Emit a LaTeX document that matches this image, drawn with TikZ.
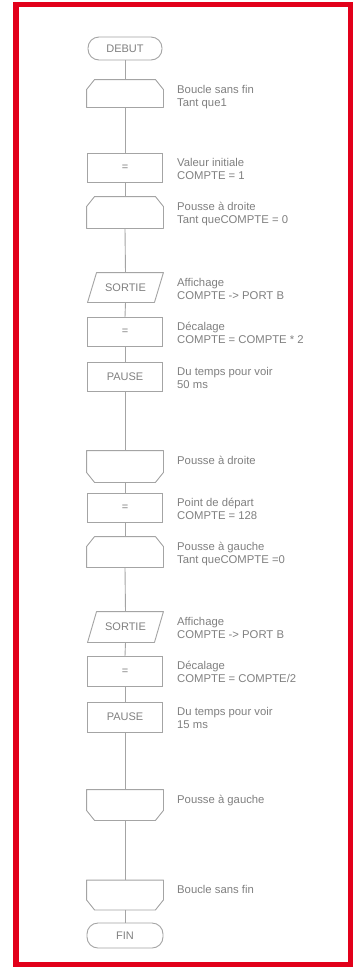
\documentclass[tikz,border=0pt]{standalone}
\usepackage{fontspec}
\setmainfont{Liberation Sans}
\definecolor{framered}{HTML}{E2001A}
\definecolor{linegray}{HTML}{A4A4A4}
\definecolor{textgray}{HTML}{808080}
\tikzset{
  base/.style={draw=linegray, line width=0.9pt, inner sep=0pt, text=textgray,
    font=\fontsize{11}{13}\selectfont, minimum width=75pt, minimum height=29pt},
  term/.style={base, rounded corners=11pt, minimum width=74pt, minimum height=23pt},
  procbox/.style={base, rectangle},
  shapeonly/.style={base, draw=none, minimum width=76pt, minimum height=30pt},
  outline/.style={draw=linegray, line width=0.9pt, line join=round},
  lbl/.style={anchor=north west, inner sep=0pt, align=left, text=textgray,
    font=\fontsize{11.3}{13}\selectfont},
  conn/.style={draw=linegray, line width=0.9pt}
}
\newcommand{\lb}[1]{\strut #1}
\begin{document}
\begin{tikzpicture}[x=1pt,y=-1pt]
\useasboundingbox (0,0) rectangle (357,967);
\fill[white] (0,0) rectangle (357,967);
\draw[framered, line width=5.5pt] (16,4.5) rectangle (350.5,964.5);

\node[term] (n1) at (125,48.5) {DEBUT};
\node[shapeonly, minimum height=27pt] (n2) at (125,93.5) {};
\node[procbox] (n3) at (125,167.5) {=};
\node[shapeonly, minimum height=31pt] (n4) at (125,212.5) {};
\node[shapeonly, minimum width=75pt, minimum height=29pt] (n5) at (125.5,287.5) {SORTIE};
\node[procbox] (n6) at (125,332) {=};
\node[procbox] (n7) at (125,376.5) {PAUSE};
\node[shapeonly, minimum height=31pt] (n8) at (125,466.5) {};
\node[procbox] (n9) at (125,508) {=};
\node[shapeonly] (n10) at (125,552) {};
\node[shapeonly, minimum width=75pt, minimum height=30pt] (n11) at (125.5,627) {SORTIE};
\node[procbox, minimum height=30pt] (n12) at (125,671.5) {=};
\node[procbox, minimum height=30pt] (n13) at (125,717) {PAUSE};
\node[shapeonly] (n14) at (125,805) {};
\node[shapeonly, minimum height=29pt] (n15) at (125,895) {};
\node[term, minimum width=76pt, minimum height=25pt] (n16) at (125,935.5) {FIN};

% loop start shapes (chamfered top)
\foreach \n in {n2,n4,n10}
  \draw[outline] (\n.south west) -- ([yshift=-10pt]\n.north west) -- ([xshift=8pt]\n.north west)
    -- ([xshift=-8pt]\n.north east) -- ([yshift=-10pt]\n.north east) -- (\n.south east) -- cycle;
% loop end shapes (chamfered bottom)
\foreach \n in {n8,n14,n15}
  \draw[outline] (\n.north west) -- ([yshift=10pt]\n.south west) -- ([xshift=8pt]\n.south west)
    -- ([xshift=-8pt]\n.south east) -- ([yshift=10pt]\n.south east) -- (\n.north east) -- cycle;
% output parallelograms
\foreach \n in {n5,n11}
  \draw[outline] (\n.south west) -- ([xshift=9pt]\n.north west) -- (\n.north east)
    -- ([xshift=-9pt]\n.south east) -- cycle;

\foreach \a/\b in {n1/n2,n2/n3,n3/n4,n4/n5,n5/n6,n6/n7,n7/n8,n8/n9,n9/n10,n10/n11,n11/n12,n12/n13,n13/n14,n14/n15,n15/n16}
  \draw[conn] (\a.south) -- (\b.north);

\node[lbl] (t2) at (177,84) {\lb{Boucle sans fin}\\\lb{Tant que1}};
\node[lbl] (t3) at (177,157) {\lb{Valeur initiale}\\\lb{COMPTE = 1}};
\node[lbl] (t4) at (177,201) {\lb{Pousse à droite}\\\lb{Tant queCOMPTE = 0}};
\node[lbl] (t5) at (177,277) {\lb{Affichage}\\\lb{COMPTE -> PORT B}};
\node[lbl] (t6) at (177,321) {\lb{Décalage}\\\lb{COMPTE = COMPTE * 2}};
\node[lbl] (t7) at (177,366) {\lb{Du temps pour voir}\\\lb{50 ms}};
\node[lbl] (t8) at (177,455) {\lb{Pousse à droite}};
\node[lbl] (t9) at (177,497) {\lb{Point de départ}\\\lb{COMPTE = 128}};
\node[lbl] (t10) at (177,541) {\lb{Pousse à gauche}\\\lb{Tant queCOMPTE =0}};
\node[lbl] (t11) at (177,616) {\lb{Affichage}\\\lb{COMPTE -> PORT B}};
\node[lbl] (t12) at (177,660) {\lb{Décalage}\\\lb{COMPTE = COMPTE/2}};
\node[lbl] (t13) at (177,706) {\lb{Du temps pour voir}\\\lb{15 ms}};
\node[lbl] (t14) at (177,794) {\lb{Pousse à gauche}};
\node[lbl] (t15) at (177,884) {\lb{Boucle sans fin}};
\end{tikzpicture}
\end{document}
